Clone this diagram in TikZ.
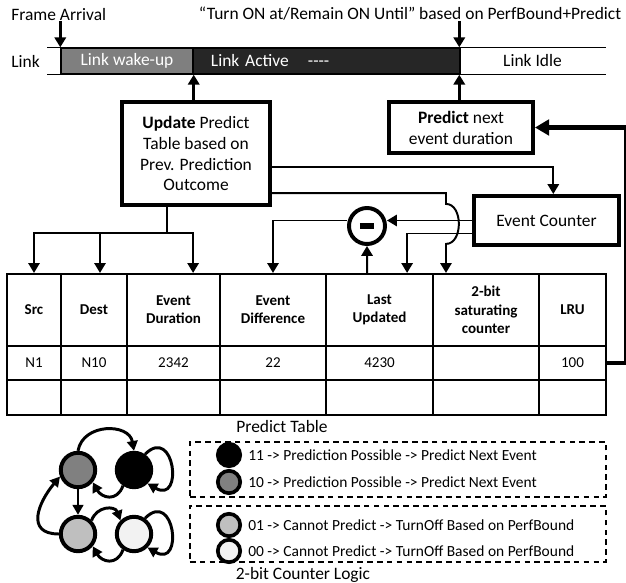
\documentclass[tikz,border=0pt]{standalone}
\usepackage{fontspec}
\setmainfont{Carlito}
\usepackage{xcolor}
\usepackage{tikz}
\usetikzlibrary{positioning, arrows.meta}

\definecolor{wakegray}{HTML}{7F7F7F}
\definecolor{activedark}{HTML}{262626}
\definecolor{midgray}{HTML}{808080}
\definecolor{lightgray}{HTML}{BFBFBF}
\definecolor{palegray}{HTML}{F2F2F2}

\begin{document}
\begin{tikzpicture}[
    x=0.025cm, y=0.025cm,
    txt/.style    = {inner sep=0pt, font=\fontsize{12.4}{14.9}\selectfont},
    legtxt/.style = {inner sep=0pt, font=\fontsize{11}{13}\selectfont},
    seg/.style    = {draw, line width=1pt, inner sep=0pt, minimum height=0.65cm,
                     font=\fontsize{12.4}{14.9}\selectfont},
    blk/.style    = {draw, line width=2.8pt, align=center, inner sep=0pt,
                     font=\fontsize{12.4}{14.9}\selectfont},
    hcell/.style  = {draw, line width=1.5pt, align=center, inner sep=0pt,
                     font=\fontsize{10.7}{13}\selectfont\bfseries},
    dcell/.style  = {draw, line width=1.5pt, align=center, inner sep=0pt,
                     font=\fontsize{10.7}{13}\selectfont},
    flow/.style   = {-{Triangle[length=7pt, width=8pt]}, line width=1.4pt},
    fat/.style    = {-{Triangle[length=10pt, width=11pt]}, line width=3.5pt},
    state/.style  = {circle, draw, line width=2.8pt, minimum size=0.86cm, inner sep=0pt},
    trans/.style  = {-{Triangle[length=7pt, width=7.5pt]}, line width=2.1pt},
    key/.style    = {circle, draw, line width=2.6pt, minimum size=0.56cm, inner sep=0pt},
    legbox/.style = {draw, dash pattern=on 4pt off 3pt, line width=1pt, minimum width=10.4cm},
  ]
    \useasboundingbox (0,0) rectangle (626,-583);

    % --- link timeline ---
    \node[txt, anchor=west] (frm) at (11,-15) {Frame Arrival};
    \node[txt] (turn) at (410,-14) {“Turn ON at/Remain ON Until” based on PerfBound+Predict};
    \node[txt, anchor=west] (lnk) at (11,-61) {Link};
    \node[seg, fill=wakegray, text=white, minimum width=3.3cm] (wake) at (127,-61) {Link wake-up};
    \node[seg, fill=activedark, text=white, text width=5.775cm, inner xsep=0.45cm, align=left]
        (act) at (326.5,-61) {Link Active\hspace{1.1em}-{}-{}-{}-};
    \node[seg, draw=none, minimum width=3.625cm] (idle) at (532.5,-61) {Link Idle};
    \draw[line width=1pt] ([xshift=-0.325cm]wake.north west) -- (idle.north east);
    \draw[line width=1pt] ([xshift=-0.325cm]wake.south west) -- (idle.south east);

    % --- update, predict, counter ---
    \node[blk, minimum width=3.7cm, minimum height=2.575cm] (upd) at (196,-153.5)
        {\textbf{Update} Predict\\ Table based on\\ Prev. Prediction\\ Outcome};
    \node[blk, minimum width=3.6cm, minimum height=1.275cm] (pred) at (461,-127.5)
        {\textbf{Predict} next\\ event duration};
    \node[blk, minimum width=3.625cm, minimum height=1.225cm] (cnt) at (546.5,-220.5) {Event Counter};
    \node[circle, draw, line width=2.8pt, minimum size=0.9cm, inner sep=0pt] (mns) at (367,-226)
        {\rule{0.36cm}{0.14cm}};

    % --- predict table ---
    \foreach \nm/\l/\r/\hd/\vl in {src/7/61/Src/N1, dst/61/127/Dest/N10,
        dur/127/220/{Event\\ Duration}/2342, dif/220/326/{Event\\ Difference}/22,
        lu/326/433/{Last\\ Updated}/4230, ctr/433/539/{2-bit\\ saturating\\ counter}/{},
        lru/539/606/LRU/100} {
      \node[hcell, minimum width={(\r-\l)*0.025cm}, minimum height=1.8cm] (h-\nm) at ({(\l+\r)/2},-310) {\hd};
      \node[dcell, minimum width={(\r-\l)*0.025cm}, minimum height=0.85cm] (d-\nm) at ({(\l+\r)/2},-363) {\vl};
      \node[dcell, minimum width={(\r-\l)*0.025cm}, minimum height=0.875cm] (e-\nm) at ({(\l+\r)/2},-397.5) {};
    }
    \node[txt] (ptab) at (282,-427) {Predict Table};

    % --- timeline arrows ---
    \draw[flow, line width=2pt] (frm.south -| wake.west) -- (wake.north west);
    \draw[flow, line width=2pt] (turn.south -| idle.west) -- (idle.north west);
    \draw[flow, line width=2pt] (upd.north -| wake.east) -- (wake.south east);
    \draw[flow, line width=2pt] (pred.north -| idle.west) -- (idle.south west);

    % --- update fans out into the table ---
    \draw[flow] ([xshift=-0.725cm]upd.south) -- ++(0,-26) coordinate (fork) -| (h-src.north);
    \draw[flow] (fork) -| ([xshift=0.15cm]h-dst.north);
    \draw[flow] (fork) -| ([xshift=0.49cm]h-dur.north);
    \draw[flow] ([yshift=-0.34cm]upd.east) -| ([xshift=0.17cm]cnt.north);
    \draw[flow] ([yshift=-0.99cm]upd.east) -| ([xshift=-1cm, yshift=1.725cm]h-ctr.north)
        to[out=0, in=0, looseness=1.1] ([xshift=-1cm, yshift=0.725cm]h-ctr.north)
        -- ([xshift=-1cm]h-ctr.north);

    % --- difference of event times ---
    \draw[flow] (cnt.west) -- (cnt.west -| mns.east);
    \draw[flow] (cnt.west -| mns.west) -| (h-dif.north);
    \draw[flow] ([xshift=-0.31cm]h-lu.north) -- (mns.south);
    \draw[flow] ([yshift=-0.325cm]cnt.west) -| ([xshift=0.69cm]h-lu.north);

    % --- table feeds the predictor ---
    \draw[fat] (d-lru.east) -- ++(19,0) |- (pred.east);

    % --- counter legend ---
    \node[legbox, minimum height=1.375cm] (lega) at (398,-469.5) {};
    \node[legbox, minimum height=1.4cm] (legb) at (398,-534) {};
    \node[key, fill=black]     (k11) at (229,-455) {};
    \node[key, fill=midgray]   (k10) at (229,-482) {};
    \node[key, fill=lightgray] (k01) at (229,-525) {};
    \node[key, fill=palegray]  (k00) at (229,-551) {};
    \node[legtxt, right=0.15cm of k11] (t11) {11 -> Prediction Possible -> Predict Next Event};
    \node[legtxt, right=0.15cm of k10] (t10) {10 -> Prediction Possible -> Predict Next Event};
    \node[legtxt, right=0.15cm of k01] (t01) {01 -> Cannot Predict -> TurnOff Based on PerfBound};
    \node[legtxt, right=0.15cm of k00] (t00) {00 -> Cannot Predict -> TurnOff Based on PerfBound};
    \node[txt] (clog) at (303,-575) {2-bit Counter Logic};

    % --- 2-bit state machine ---
    \node[state, fill=midgray]   (s10) at (78,-470) {};
    \node[state, fill=black]     (s11) at (134,-470) {};
    \node[state, fill=lightgray] (s01) at (78,-534) {};
    \node[state, fill=palegray]  (s00) at (134,-534) {};
    \draw[trans] (s10.90) to[out=80, in=100, looseness=1.3] (s11.90);
    \draw[trans] (s11.55) .. controls +(45:42) and +(-30:42) .. (s11.-45);
    \draw[trans] (s11.235) to[out=-110, in=-60, looseness=1.5] (s10.-40);
    \draw[trans] (s10) -- (s01);
    \draw[trans] (s01.180) to[out=180, in=230, looseness=1.5] (s10.200);
    \draw[trans] (s01.45) to[out=70, in=110, looseness=1.4] (s00.135);
    \draw[trans] (s00.55) .. controls +(45:42) and +(-30:42) .. (s00.-45);
    \draw[trans] (s00.235) to[out=-110, in=-60, looseness=1.5] (s01.-40);
\end{tikzpicture}
\end{document}
